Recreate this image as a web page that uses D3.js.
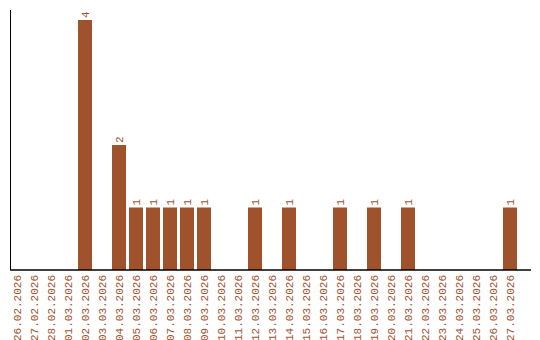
<!DOCTYPE html>
<html><head><meta charset="utf-8">
<script src="https://cdn.jsdelivr.net/npm/d3@7"></script>
<style>body{margin:0;background:#fff}svg{display:block}</style>
</head><body>
<svg id="c" width="540" height="340"></svg>
<script>
const dates = ["26.02.2026","27.02.2026","28.02.2026","01.03.2026","02.03.2026","03.03.2026","04.03.2026","05.03.2026","06.03.2026","07.03.2026","08.03.2026","09.03.2026","10.03.2026","11.03.2026","12.03.2026","13.03.2026","14.03.2026","15.03.2026","16.03.2026","17.03.2026","18.03.2026","19.03.2026","20.03.2026","21.03.2026","22.03.2026","23.03.2026","24.03.2026","25.03.2026","26.03.2026","27.03.2026"];
const counts = [0,0,0,0,4,0,2,1,1,1,1,1,0,0,1,0,1,0,0,1,0,1,0,1,0,0,0,0,0,1];

const color = "#A0522D";
const svg = d3.select("#c");
const x = d3.scaleBand().domain(dates).range([10, 517]).paddingInner(3/17).paddingOuter(0).align(0);
const y = d3.scaleLinear().domain([0, 4]).range([270, 20]);

const data = dates.map((d,i)=>({d, v:counts[i]}));

svg.selectAll("rect.bar").data(data.filter(e=>e.v>0)).join("rect")
  .attr("class","bar")
  .attr("x", e=>x(e.d)).attr("width", x.bandwidth())
  .attr("y", e=>y(e.v)).attr("height", e=>y(0)-y(e.v))
  .attr("fill", color);

svg.selectAll("text.val").data(data.filter(e=>e.v>0)).join("text")
  .attr("class","val")
  .attr("transform", e=>`translate(${x(e.d)+x.bandwidth()/2+4},${y(e.v)-2}) rotate(-90)`)
  .attr("font-family","Liberation Mono").attr("font-size",11)
  .attr("fill", color).text(e=>e.v);

svg.selectAll("text.lab").data(dates).join("text")
  .attr("class","lab")
  .attr("transform", d=>`translate(${x(d)+x.bandwidth()/2+4},275) rotate(-90)`)
  .attr("text-anchor","end")
  .attr("font-family","Liberation Mono").attr("font-size",11)
  .attr("fill", color).text(d=>d);

svg.append("line").attr("x1",10.5).attr("x2",10.5).attr("y1",10).attr("y2",270).attr("stroke","#000").attr("stroke-width",1);
svg.append("line").attr("x1",10).attr("x2",531).attr("y1",270).attr("y2",270).attr("stroke","#000").attr("stroke-width",1.5);
</script>
</body></html>
